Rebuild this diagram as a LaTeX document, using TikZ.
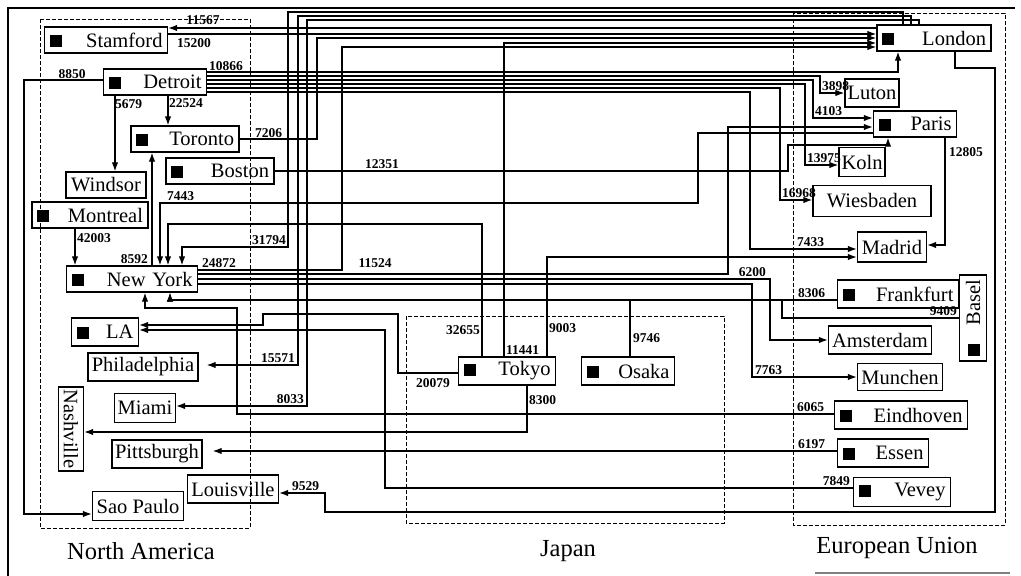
\documentclass[tikz,border=0pt]{standalone}
\usepackage{fontspec}
\setmainfont{Liberation Serif}
\usetikzlibrary{arrows.meta}
\newcommand{\hubsq}{\rule{12pt}{12pt}}
\begin{document}
\begin{tikzpicture}[x=1pt, y=-1pt,
                    >={Latex[length=9pt,width=6.5pt]},
                    city/.style={draw, line width=1.4pt, font=\fontsize{20.5}{22}\selectfont,
                                 inner xsep=2.5pt, inner ysep=0pt, minimum height=26pt},
                    hub/.style={city, inner xsep=5pt, text width=#1, align=left},
                    lbl/.style={font=\bfseries\fontsize{13.5}{14}\selectfont, inner sep=0.5pt},
                    flow/.style={->, line width=1.2pt},
                    region/.style={line width=0.9pt, dash pattern=on 4pt off 2pt},
                    area/.style={font=\fontsize{24.5}{26}\selectfont}
                    ]
\useasboundingbox (0,0) rectangle (1021,576);
\draw[line width=1.2pt] (8,576) -- (8,8) -- (1015,8);
\draw[gray, line width=1.5pt] (815,573) -- (1010,573);

% regions
\draw[region] (40,19) rectangle (250,528);
\draw[region] (406,316) rectangle (724,523);
\draw[region] (793,13) rectangle (1005,525);
\node[area] (na) at (141,551) {North America};
\node[area] (jp) at (568,551) {Japan};
\node[area] (eu) at (897,548) {European Union};

% North America
\node[hub=113pt] (Stamford) at (106,40) {\hubsq\hfill Stamford};
\node[hub=93pt] (Detroit) at (155,82) {\hubsq\hfill Detroit};
\node[hub=98pt] (Toronto) at (185,139) {\hubsq\hfill Toronto};
\node[hub=98pt] (Boston) at (220,171) {\hubsq\hfill Boston};
\node[city, minimum width=80pt] (Windsor) at (106,185) {Windsor};
\node[hub=106pt] (Montreal) at (90,215) {\hubsq\hfill Montreal};
\node[hub=121pt] (NewYork) at (132,279) {\hubsq\hfill New York};
\node[hub=57pt, minimum height=28pt] (LA) at (105,332) {\hubsq\hfill LA};
\node[city, minimum width=110pt, minimum height=28pt] (Philadelphia) at (143,367) {Philadelphia};
\node[city, minimum width=61pt, minimum height=29pt] (Miami) at (145,408) {Miami};
\node[city, rotate=-90, minimum width=84pt, minimum height=25pt] (Nashville) at (71,429) {Nashville};
\node[city, minimum width=90pt, minimum height=28pt] (Pittsburgh) at (157,454) {Pittsburgh};
\node[city, minimum width=91pt, minimum height=28pt] (Louisville) at (233,489) {Louisville};
\node[city, minimum width=91pt, minimum height=29pt] (SaoPaulo) at (138,506) {Sao Paulo};

% Japan
\node[hub=87pt, minimum height=28pt] (Tokyo) at (507,371) {\hubsq\hfill Tokyo};
\node[hub=83pt, minimum height=28pt] (Osaka) at (628,371) {\hubsq\hfill Osaka};

% European Union
\node[hub=104pt] (London) at (934,38) {\hubsq\hfill London};
\node[city, minimum width=54pt, minimum height=28pt] (Luton) at (872,93) {Luton};
\node[hub=73pt] (Paris) at (915,124) {\hubsq\hfill Paris};
\node[city, minimum width=45pt, minimum height=29pt] (Koln) at (862,162) {Koln};
\node[city, minimum width=118pt, minimum height=31pt] (Wiesbaden) at (872,201) {Wiesbaden};
\node[city, minimum width=69pt, minimum height=30pt] (Madrid) at (892,247) {Madrid};
\node[hub=111pt, minimum height=28pt] (Frankfurt) at (898,294) {\hubsq\hfill Frankfurt};
\node[hub=76pt, rotate=90, minimum height=27pt] (Basel) at (973,318) {\hubsq\hfill Basel};
\node[city, minimum width=103pt, minimum height=28pt] (Amsterdam) at (880,340) {Amsterdam};
\node[city, minimum width=85pt, minimum height=27pt] (Munchen) at (900,377) {Munchen};
\node[hub=123pt, minimum height=28pt] (Eindhoven) at (901,415) {\hubsq\hfill Eindhoven};
\node[hub=81pt, minimum height=28pt] (Essen) at (883,453) {\hubsq\hfill Essen};
\node[hub=87pt, minimum height=29pt] (Vevey) at (902,492) {\hubsq\hfill Vevey};

% Stamford
\draw[flow] (London.west |- 0,28) -- (Stamford.east |- 0,28) node[lbl] at (203,20) {11567};
\draw[flow] (Stamford.east |- 0,34) -- (London.west |- 0,34) node[lbl] at (194,43) {15200};

% Detroit
\draw[flow] (Detroit.west |- 0,80) -- (24,80) |- (SaoPaulo.west |- 0,514) node[lbl] at (72,74) {8850};
\draw[flow] (Detroit.south -| 115,0) -- (Windsor.north -| 115,0) node[lbl, anchor=west] at (114,104) {5679};
\draw[flow] (Detroit.south -| 168,0) -- (Toronto.north -| 168,0) node[lbl, anchor=west] at (168,103) {22524};
\draw[flow] (Detroit.east |- 0,72) -| (London.south -| 898,0) node[lbl, anchor=south west] at (208,72) {10866};
\draw[flow] (Detroit.east |- 0,76) -| (820,93) -- (Luton.west |- 0,93) node[lbl, anchor=south west] at (821,92) {3898};
\draw[flow] (Detroit.east |- 0,80) -| (813,118) -- (Paris.west |- 0,118) node[lbl, anchor=south west] at (814,117) {4103};
\draw[flow] (Detroit.east |- 0,84) -| (805,165) -- (Koln.west |- 0,165) node[lbl, anchor=south west] at (806,164) {13975};
\draw[flow] (Detroit.east |- 0,88) -| (780,200) -- (Wiesbaden.west |- 0,200) node[lbl, anchor=south west] at (781,199) {16968};
\draw[flow] (Detroit.east |- 0,92) -| (750,249) -- (Madrid.west |- 0,249) node[lbl, anchor=south west] at (796,248) {7433};

% Toronto, Boston
\draw[flow] (Toronto.east) -| (317,38) -- (London.west |- 0,38) node[lbl, anchor=south west] at (254,139) {7206};
\draw[flow] (Boston.east) -| (788,145) -| (Paris.south -| 888,0) node[lbl, anchor=south west] at (364,170) {12351};

% New York
\draw[flow] (NewYork.east |- 0,270) -| (342,47) -- (London.west |- 0,47) node[lbl, anchor=south west] at (201,269) {24872};
\draw[flow] (NewYork.east |- 0,274) -| (728,127) -- (Paris.west |- 0,127) node[lbl, anchor=south] at (375,269) {11524};
\draw[flow] (NewYork.east |- 0,279) -| (770,340) -- (Amsterdam.west) node[lbl, anchor=south east] at (767,278) {6200};
\draw[flow] (NewYork.east |- 0,284) -| (752,377) -- (Munchen.west) node[lbl, anchor=south west] at (754,376) {7763};
\draw[flow] (NewYork.north -| 152,0) -- (Toronto.south -| 152,0) node[lbl, anchor=south east] at (149,265) {8592};
\draw[flow] (Montreal.south -| 75,0) -- (NewYork.north -| 75,0) node[lbl, anchor=west] at (76,238) {42003};

% London
\draw[flow] (London.north -| 903,0) |- (288,12) |- (182,247) -- (NewYork.north -| 182,0) node[lbl, anchor=south east] at (287,246) {31794};
\draw[flow, shorten >=8pt] (London.north -| 911,0) |- (298,16) |- (Philadelphia.east |- 0,365) node[lbl, anchor=south east] at (296,364) {15571};
\draw[flow] (London.north -| 919,0) |- (307,20) |- (Miami.east |- 0,406) node[lbl, anchor=south east] at (305,405) {8033};
\draw[flow] (London.south -| 955,0) |- (995,68) |- (325,512) |- (Louisville.east |- 0,493) node[lbl, anchor=south west] at (291,492) {9529};

% Paris
\draw[flow] (Paris.west |- 0,133) -| (698,203) -| (NewYork.north -| 160,0) node[lbl, anchor=south west] at (166,202) {7443};
\draw[flow] (Paris.south -| 945,0) |- (Madrid.east |- 0,245) node[lbl, anchor=west] at (948,152) {12805};

% Tokyo, Osaka
\draw[flow] (Tokyo.north -| 504,0) |- (London.west |- 0,43) node[lbl, anchor=south west] at (505,356) {11441};
\draw[flow] (Tokyo.north -| 482,0) |- (168,224) -- (NewYork.north -| 168,0) node[lbl, anchor=east] at (481,330) {32655};
\draw[flow] (Tokyo.north -| 547,0) |- (Madrid.west |- 0,257) node[lbl, anchor=west] at (548,328) {9003};
\draw[flow] (Tokyo.west |- 0,373) -| (398,314) -| (263,325) -- (LA.east |- 0,325) node[lbl] at (433,383) {20079};
\draw[flow] (Tokyo.south -| 527,0) |- (Nashville.north |- 0,432) node[lbl, anchor=west] at (528,400) {8300};
\draw[flow] (Osaka.north -| 630,0) |- (170,300) -- (NewYork.south -| 170,0) node[lbl, anchor=west] at (632,338) {9746};

% Frankfurt and the rest of Europe
\draw[flow] (Frankfurt.west |- 0,300) -| (NewYork.south -| 170,0) node[lbl, anchor=south west] at (797,299) {8306};
\draw[line width=1.2pt] (Frankfurt.west |- 0,300) -| (782,318) -- (Basel.north |- 0,318) node[lbl, anchor=south east] at (958,317) {9409};
\draw[flow] (Eindhoven.west |- 0,414) -| (237,308) -| (NewYork.south -| 145,0) node[lbl, anchor=south west] at (796,413) {6065};
\draw[flow, shorten >=10pt] (Essen.west |- 0,451) -- (Pittsburgh.east |- 0,451) node[lbl, anchor=south west] at (797,450) {6197};
\draw[flow] (Vevey.west |- 0,488) -| (385,330) -- (LA.east |- 0,330) node[lbl, anchor=south east] at (851,487) {7849};
\end{tikzpicture}
\end{document}
